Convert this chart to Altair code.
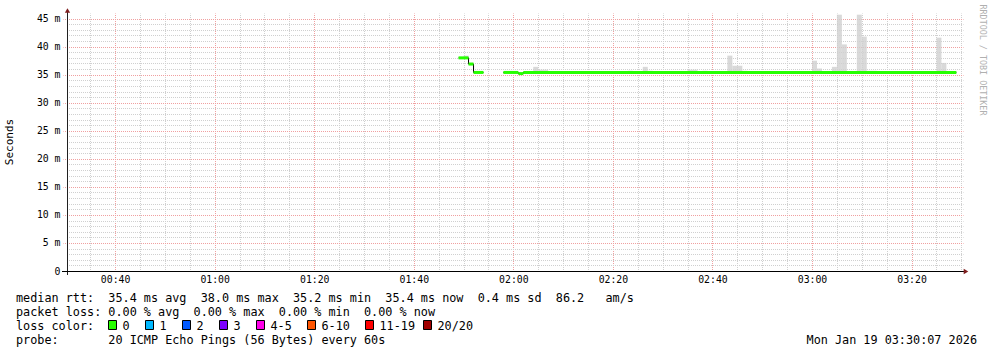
import altair as alt
import pandas as pd

# ---------------- data ----------------
# median RTT, as constant steps (time "HH:MM", value in ms)
median_start = ["01:49", "01:51", "01:52", "01:58", "02:01", "02:02"]
median_end   = ["01:51", "01:52", "01:54", "02:01", "02:02", "03:29"]
median_ms    = [38.0, 36.9, 35.4, 35.4, 35.2, 35.4]

# smoke (spread of the pings) per interval, in ms
smoke_start = ["01:50", "01:51", "02:00", "02:04", "02:05", "02:07", "02:23", "02:26",
               "02:27", "02:35", "02:38", "02:43", "02:44", "02:46", "03:00", "03:01",
               "03:04", "03:05", "03:06", "03:09", "03:10", "03:11", "03:25", "03:26"]
smoke_end   = ["01:51", "01:52", "02:01", "02:05", "02:07", "02:08", "02:24", "02:27",
               "02:28", "02:37", "02:39", "02:44", "02:46", "02:47", "03:01", "03:02",
               "03:05", "03:06", "03:07", "03:10", "03:11", "03:13", "03:26", "03:27"]
smoke_low   = [37.8, 36.7, 35.2, 35.2, 35.2, 35.2, 35.2, 35.2,
               35.2, 35.2, 35.2, 35.2, 35.2, 35.2, 35.2, 35.2,
               35.2, 35.2, 35.2, 35.2, 35.2, 35.2, 35.2, 35.2]
smoke_high  = [38.4, 37.1, 35.6, 36.4, 35.9, 35.6, 35.7, 36.4,
               35.7, 35.9, 35.7, 38.4, 36.6, 35.7, 37.5, 36.1,
               36.4, 45.7, 40.4, 45.7, 41.8, 35.7, 41.6, 37.1]

rtt_stat_names = ["avg", "max", "min", "now", "sd"]
rtt_stat_values = [35.4, 38.0, 35.2, 35.4, 0.4]
am_per_s = 86.2
loss_stat_names = ["avg", "max", "min", "now"]
loss_stat_values = [0.00, 0.00, 0.00, 0.00]
loss_labels = ["0", "1", "2", "3", "4-5", "6-10", "11-19", "20/20"]
loss_colors = ["#26ff00", "#00b8ff", "#0059ff", "#7e00ff", "#ff00ea", "#ff5500", "#ff0000", "#a10000"]
probe_text = "20 ICMP Echo Pings (56 Bytes) every 60s"
date_text = "Mon Jan 19 03:30:07 2026"
credit_text = "RRDTOOL / TOBI OETIKER"
y_title = "Seconds"
time_domain = ["00:30:20", "03:30:20"]
y_domain = [0, 46]
y_tick_values = list(range(0, 46))
x_tick_minutes = list(range(35, 211, 5))

# ---------------- helpers ----------------
MONO = "DejaVu Sans Mono"
MAJOR = "#f0a0a0"
MINOR = "#d0d0d0"
AXIS_C = "#202020"
ARROW_C = "#7f1f1f"
W, H = 896, 258
X0, Y0 = 67, 13
TXT = 11.8


def mins(s):
    p = s.split(":")
    return int(p[0]) * 60 + int(p[1]) + (int(p[2]) / 60 if len(p) > 2 else 0)


NB = "\u00a0"


def nb(s):
    return s.replace(" ", NB)


x_scale = alt.Scale(domain=[mins(time_domain[0]), mins(time_domain[1])], nice=False, zero=False)
y_scale = alt.Scale(domain=y_domain, nice=False, zero=True)

x_axis = alt.Axis(
    values=x_tick_minutes,
    labelExpr="datum.value % 20 === 0 ? format(floor(datum.value / 60), '02d') + ':' + format(datum.value % 60, '02d') : ''",
    grid=True,
    gridColor={"condition": {"test": "datum.value % 20 === 0", "value": MAJOR}, "value": MINOR},
    gridDash=[1, 1],
    gridDashOffset=0.5,
    gridWidth=1,
    domain=False,
    ticks=False,
    labelFont=MONO,
    labelFontSize=9.8,
    labelColor="black",
    labelPadding=3,
    labelOverlap=False,
    labelFlush=False,
    title=None,
)
y_axis = alt.Axis(
    values=y_tick_values,
    labelExpr="datum.value % 5 === 0 ? (datum.value === 0 ? '0" + NB + NB + "' : datum.value + '" + NB + "m') : ''",
    grid=True,
    gridColor={"condition": {"test": "datum.value % 5 === 0", "value": MAJOR}, "value": MINOR},
    gridDash=[1, 1],
    gridDashOffset=0.5,
    gridWidth=1,
    domain=False,
    ticks=True,
    tickSize=4,
    tickDash=[1, 1],
    tickDashOffset=0.5,
    tickColor={"condition": {"test": "datum.value % 5 === 0 && datum.value > 0", "value": MAJOR},
               "value": "transparent"},
    labelFont=MONO,
    labelFontSize=9.8,
    labelColor="black",
    labelPadding=3,
    labelOverlap=False,
    labelFlush=False,
    title=None,
)

# ---------------- tables ----------------
smoke_df = pd.DataFrame({
    "t": [mins(s) for s in smoke_start],
    "t2": [mins(s) for s in smoke_end],
    "v": smoke_low,
    "v2": smoke_high,
})

seg_df = pd.DataFrame({
    "t": [mins(s) for s in median_start],
    "t2": [mins(s) for s in median_end],
    "v": median_ms,
})

# step-line points, split into contiguous runs
pts = []
run = 0
for i in range(len(median_start)):
    pts.append({"t": mins(median_start[i]), "v": median_ms[i], "run": run})
    last = i == len(median_start) - 1
    if last or median_end[i] != median_start[i + 1]:
        pts.append({"t": mins(median_end[i]), "v": median_ms[i], "run": run})
        run += 1
step_df = pd.DataFrame(pts)

# ---------------- layers ----------------
smoke = alt.Chart(smoke_df).mark_rect(color="#cfcfcf", opacity=0.8).encode(
    x=alt.X("t:Q", scale=x_scale, axis=x_axis),
    x2="t2:Q",
    y=alt.Y("v:Q", scale=y_scale, axis=y_axis),
    y2="v2:Q",
)

step = alt.Chart(step_df).mark_line(interpolate="step-after", color="#000000", strokeWidth=1).encode(
    x=alt.X("t:Q", scale=x_scale, axis=x_axis),
    y=alt.Y("v:Q", scale=y_scale, axis=y_axis),
    detail="run:N",
)

green = alt.Chart(seg_df).mark_rule(color=loss_colors[0], strokeWidth=3, strokeCap="butt").encode(
    x=alt.X("t:Q", scale=x_scale, axis=x_axis),
    x2="t2:Q",
    y=alt.Y("v:Q", scale=y_scale, axis=y_axis),
)

one = pd.DataFrame({"a": [0]})

y_line = alt.Chart(one).mark_rule(color=AXIS_C, strokeWidth=1).encode(
    x=alt.value(0.5), y=alt.value(-3), y2=alt.value(H + 4))
x_line = alt.Chart(one).mark_rule(color="#000000", strokeWidth=1).encode(
    x=alt.value(-5), x2=alt.value(W + 1), y=alt.value(H + 0.5), )
arrow_up = alt.Chart(one).mark_point(shape="triangle-up", filled=True, color=ARROW_C, size=28, opacity=1).encode(
    x=alt.value(0.5), y=alt.value(-2.5))
arrow_right = alt.Chart(one).mark_point(shape="triangle-right", filled=True, color=ARROW_C, size=28, opacity=1).encode(
    x=alt.value(W + 3), y=alt.value(H + 0.5))


def txt(s, x, y, size=TXT, align="left", baseline="alphabetic", angle=0, color="black"):
    return alt.Chart(pd.DataFrame({"s": [nb(s)]})).mark_text(
        align=align, baseline=baseline, font=MONO, fontSize=size, color=color, angle=angle
    ).encode(x=alt.value(x), y=alt.value(y), text="s:N")


row_base = [301.5 - Y0 + 14.2 * i for i in range(4)]
left = 16 - X0

row1 = "median rtt:  " + "  ".join(
    f"{v:.1f} ms {n}" for n, v in zip(rtt_stat_names, rtt_stat_values)) + f"  {am_per_s:.1f}   am/s"
row2 = "packet loss: " + "  ".join(f"{v:.2f} % {n}" for n, v in zip(loss_stat_names, loss_stat_values))
row3 = "loss color:"
row4 = "probe:       " + probe_text

texts = [
    txt(row1, left, row_base[0]),
    txt(row2, left, row_base[1]),
    txt(row3, left, row_base[2]),
    txt(row4, left, row_base[3]),
    txt(date_text, 977 - X0, row_base[3], align="right"),
    txt(y_title, 10 - X0, 142 - Y0, size=11, align="center", baseline="middle", angle=270),
    txt(credit_text, 983 - X0, 60 - Y0, size=8.4, align="center", baseline="middle", angle=90, color="#b0b0b0"),
]

# loss colour legend (layout positions of the legend swatches)
legend_x = [108, 145, 182, 219, 256, 307, 365, 423]
legend_layers = []
for lx, lab, col in zip(legend_x, loss_labels, loss_colors):
    legend_layers.append(
        alt.Chart(one).mark_rect(color=col, stroke="#000000", strokeWidth=1).encode(
            x=alt.value(lx + 0.5 - X0), x2=alt.value(lx + 8.5 - X0),
            y=alt.value(320.5 - Y0), y2=alt.value(329.5 - Y0))
    )
    legend_layers.append(txt(lab, lx + 14.5 - X0, row_base[2]))

chart = alt.layer(
    smoke, step, green, y_line, x_line, arrow_up, arrow_right, *texts, *legend_layers
).properties(
    width=W, height=H,
    autosize="none",
    padding={"left": X0, "top": Y0, "right": 993 - X0 - W, "bottom": 353 - Y0 - H},
    background="white",
).configure_view(stroke=None)

chart.save("out.html", embed_options={"renderer": "svg", "actions": False})
